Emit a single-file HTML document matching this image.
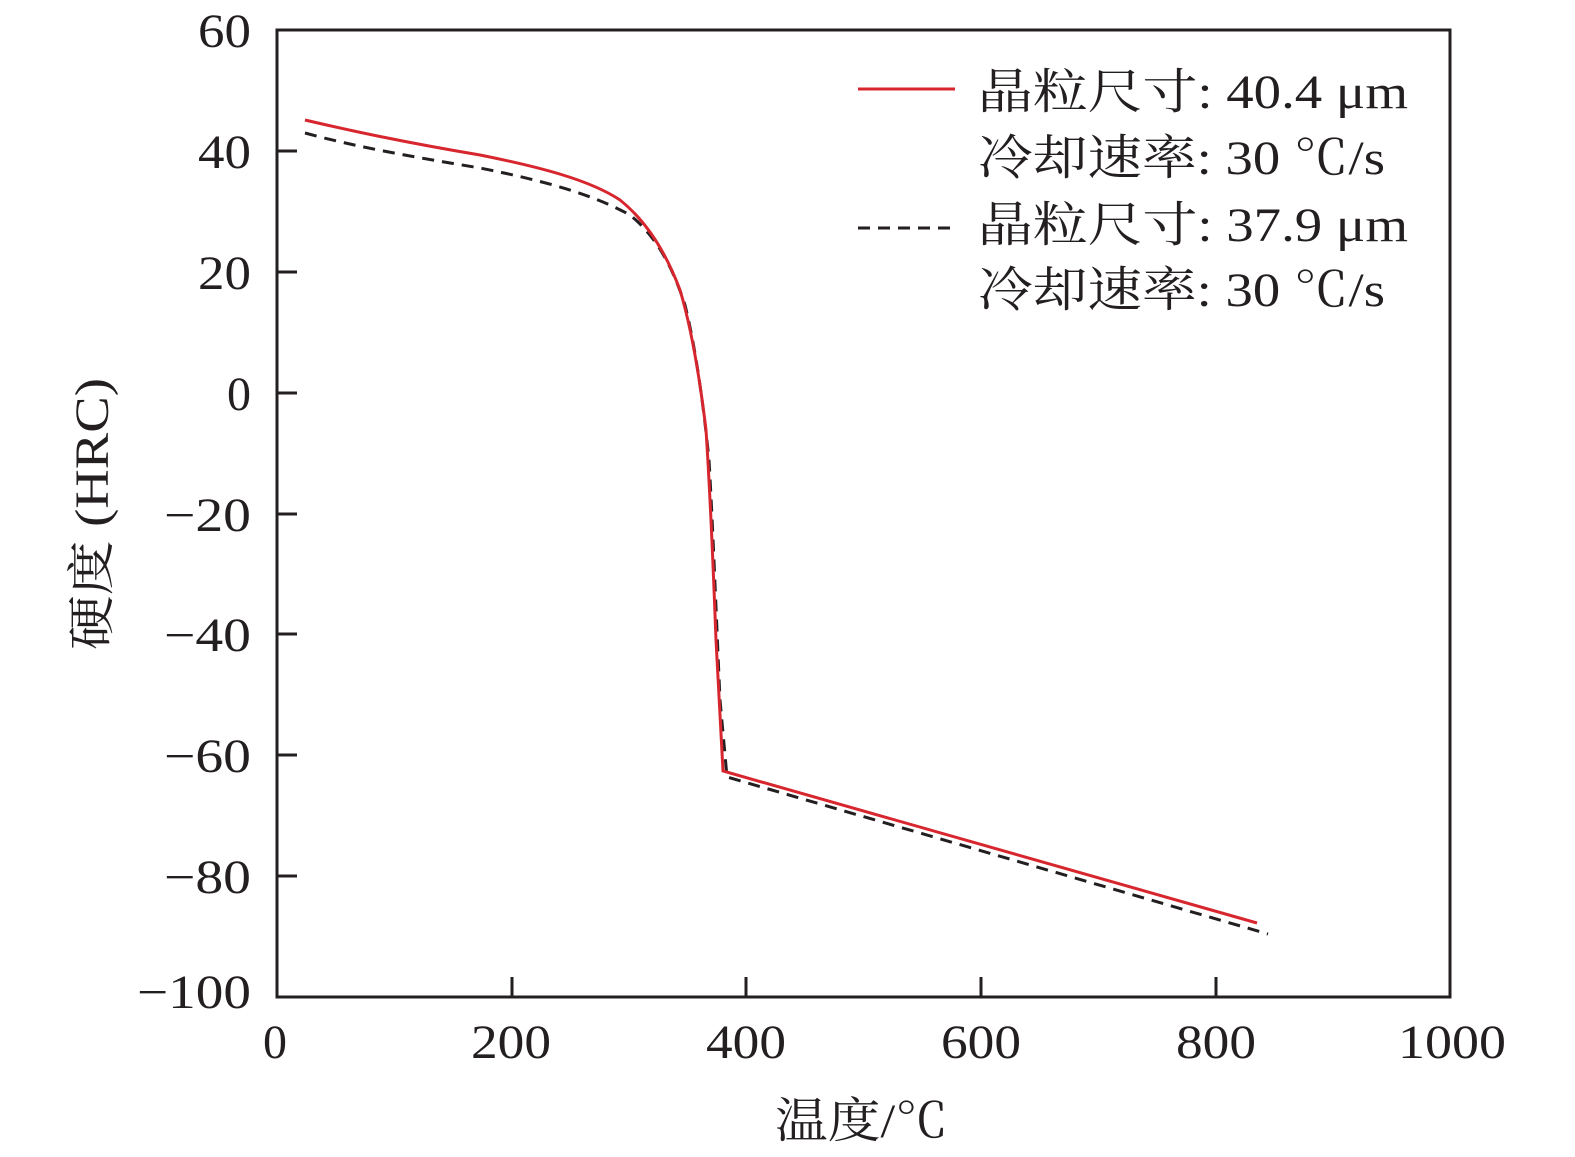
<!DOCTYPE html>
<html><head><meta charset="utf-8"><style>body{margin:0;background:#fff}svg{display:block}text{font-family:"Liberation Serif","Times New Roman","Noto Serif CJK SC",serif}</style></head>
<body>
<svg width="1575" height="1157" xmlns="http://www.w3.org/2000/svg" fill="#231f20">
<rect x="277" y="30" width="1173" height="967" fill="none" stroke="#231f20" stroke-width="3"/>
<g stroke="#231f20" stroke-width="3">
<line x1="512" y1="997" x2="512" y2="977"/><line x1="746" y1="997" x2="746" y2="977"/><line x1="981" y1="997" x2="981" y2="977"/><line x1="1216" y1="997" x2="1216" y2="977"/>
<line x1="277" y1="151" x2="297" y2="151"/><line x1="277" y1="272" x2="297" y2="272"/><line x1="277" y1="393" x2="297" y2="393"/><line x1="277" y1="514" x2="297" y2="514"/><line x1="277" y1="634" x2="297" y2="634"/><line x1="277" y1="755" x2="297" y2="755"/><line x1="277" y1="876" x2="297" y2="876"/>
</g>
<g font-size="48" text-anchor="end" lengthAdjust="spacingAndGlyphs">
<text x="251" y="47" textLength="53" lengthAdjust="spacingAndGlyphs">60</text><text x="251" y="168" textLength="53" lengthAdjust="spacingAndGlyphs">40</text><text x="251" y="289" textLength="53" lengthAdjust="spacingAndGlyphs">20</text><text x="251" y="410">0</text><text x="251" y="531" textLength="87" lengthAdjust="spacingAndGlyphs">−20</text><text x="251" y="651" textLength="87" lengthAdjust="spacingAndGlyphs">−40</text><text x="251" y="772" textLength="87" lengthAdjust="spacingAndGlyphs">−60</text><text x="251" y="893" textLength="87" lengthAdjust="spacingAndGlyphs">−80</text><text x="251" y="1008" textLength="114" lengthAdjust="spacingAndGlyphs">−100</text>
</g>
<g font-size="48">
<text x="263" y="1058">0</text><text x="471" y="1058" textLength="80" lengthAdjust="spacingAndGlyphs">200</text><text x="706" y="1058" textLength="80" lengthAdjust="spacingAndGlyphs">400</text><text x="941" y="1058" textLength="80" lengthAdjust="spacingAndGlyphs">600</text><text x="1176" y="1058" textLength="80" lengthAdjust="spacingAndGlyphs">800</text><text x="1398" y="1058" textLength="108" lengthAdjust="spacingAndGlyphs">1000</text>
<text x="775" y="1137" textLength="173" lengthAdjust="spacingAndGlyphs">温度/℃</text>
<text transform="translate(108,650) rotate(-90)" textLength="272" lengthAdjust="spacingAndGlyphs">硬度 (HRC)</text>
</g>
<path d="M305,133 C360,148 420,158 480,168 C540,180 590,193 630,215 C655,235 672,265 685,305 C695,345 703,400 709,460 C713,530 716,610 720,700 L727,777 L1268,934" fill="none" stroke="#231f20" stroke-width="3" stroke-dasharray="12,8"/>
<path d="M305,120 C360,133 420,145 480,155 C540,167 590,180 620,200 C645,220 665,250 680,290 C692,330 700,380 706,430 C710,490 713,560 716,640 L723,771 L1257,923" fill="none" stroke="#d7262e" stroke-width="3"/>
<line x1="858" y1="89" x2="955" y2="89" stroke="#d7262e" stroke-width="3"/>
<line x1="858" y1="228" x2="955" y2="228" stroke="#231f20" stroke-width="3" stroke-dasharray="12,8"/>
<g font-size="48">
<text x="978" y="108" textLength="430" lengthAdjust="spacingAndGlyphs">晶粒尺寸: 40.4 μm</text>
<text x="978" y="174" textLength="407" lengthAdjust="spacingAndGlyphs">冷却速率: 30 ℃/s</text>
<text x="978" y="241" textLength="430" lengthAdjust="spacingAndGlyphs">晶粒尺寸: 37.9 μm</text>
<text x="978" y="306" textLength="407" lengthAdjust="spacingAndGlyphs">冷却速率: 30 ℃/s</text>
</g>
</svg>
</body></html>
